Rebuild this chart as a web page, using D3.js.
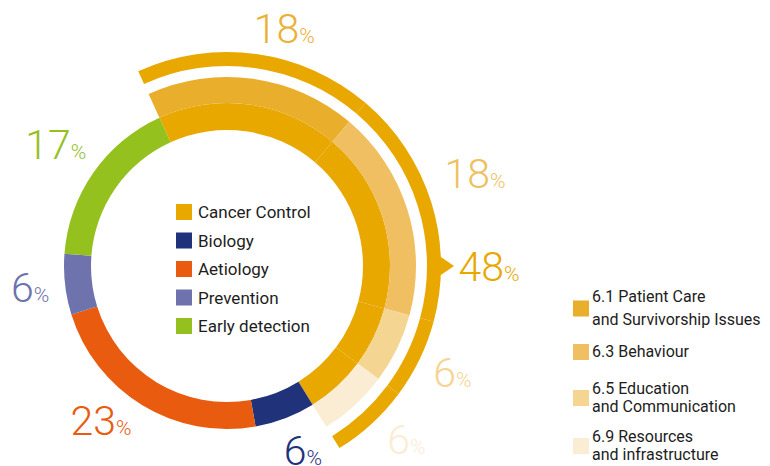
<!DOCTYPE html>
<html>
<head>
<meta charset="utf-8">
<script src="https://cdn.jsdelivr.net/npm/d3@7"></script>
<style>
  html, body { margin: 0; padding: 0; background: #fff; }
  svg { display: block; font-family: Roboto, "Noto Sans", sans-serif; }
</style>
</head>
<body>
<svg id="chart" width="770" height="466"></svg>
<script>
// ---- data ----
const categories = ["Cancer Control", "Biology", "Aetiology", "Prevention", "Early detection"];
const shares = [48, 6, 23, 6, 17];
const categoryColors = ["#E8A800", "#1F327A", "#E95B0F", "#6E72AD", "#95C11F"];

const subCategories = [
  ["6.1 Patient Care", "and Survivorship Issues"],
  ["6.3 Behaviour"],
  ["6.5 Education", "and Communication"],
  ["6.9 Resources", "and infrastructure"]
];
const subShares = [18, 18, 6, 6];
const subColors = ["#E9AE2B", "#EFBF62", "#F4D592", "#FBEDD4"];
const subLabelColors = ["#EBB034", "#EFBF62", "#F4D592", "#FBEDD4"];

// ---- layout ----
const svg = d3.select("#chart");
const cx = 227, cy = 266;
const deg = Math.PI / 180;
const startAngle = -24.5 * deg;
const total = d3.sum(shares);

const g = svg.append("g").attr("transform", `translate(${cx},${cy})`);

const pieMain = d3.pie().sort(null).value(d => d)
  .startAngle(startAngle).endAngle(startAngle + 2 * Math.PI);
const mainArcs = pieMain(shares);

const pieSub = d3.pie().sort(null).value(d => d)
  .startAngle(startAngle).endAngle(startAngle + 2 * Math.PI * d3.sum(subShares) / total);
const subArcs = pieSub(subShares);

const arcInner = d3.arc().innerRadius(136).outerRadius(163);
const arcSub = d3.arc().innerRadius(163).outerRadius(189);
const arcThin = d3.arc().innerRadius(200).outerRadius(214);

// inner ring: Cancer Control drawn in its sub-segments (same colour), others as-is
g.selectAll("path.cc").data(subArcs).join("path")
  .attr("class", "cc").attr("d", arcInner).attr("fill", categoryColors[0]);
g.selectAll("path.main").data(mainArcs.slice(1)).join("path")
  .attr("class", "main").attr("d", arcInner)
  .attr("fill", (d, i) => categoryColors[i + 1]);

// second ring: sub-categories
g.selectAll("path.sub").data(subArcs).join("path")
  .attr("class", "sub").attr("d", arcSub)
  .attr("fill", (d, i) => subColors[i]);

// thin outer bracket ring
g.selectAll("path.thin").data(subArcs).join("path")
  .attr("class", "thin").attr("d", arcThin).attr("fill", categoryColors[0]);

// pointer triangle at 90°
const polar = (r, a) => [r * Math.sin(a), -r * Math.cos(a)];
const pa = 90 * deg, pd = 3.9 * deg;
g.append("path")
  .attr("d", d3.line()([polar(207, pa - pd), polar(227, pa), polar(207, pa + pd)]) + "Z")
  .attr("fill", categoryColors[0]);

// ---- percentage labels ----
function pctLabel(value, color, angle, r) {
  const [x, y] = polar(r, angle);
  const t = g.append("text")
    .attr("x", x).attr("y", y + 15)
    .attr("text-anchor", "middle")
    .attr("fill", color)
    .attr("font-weight", 300);
  t.append("tspan").attr("font-size", 41).text(value);
  t.append("tspan").attr("font-size", 21).text("%");
}
const mid = d => (d.startAngle + d.endAngle) / 2;

// main category labels (Cancer Control is labelled at the pointer)
const mainLabelAdj = [null, [-1.5, 199], [8, 199], [0.3, 198], [0.5, 210]];
mainArcs.forEach((d, i) => {
  if (i === 0) return;
  const [da, r] = mainLabelAdj[i];
  pctLabel(shares[i], categoryColors[i], mid(d) + da * deg, r);
});
pctLabel(shares[0], categoryColors[0], pa, 262);

// sub-category labels
const subLabelAdj = [[5.6, 245], [-3.3, 265], [-0.8, 249], [-3.6, 249]];
subArcs.forEach((d, i) => {
  const [da, r] = subLabelAdj[i];
  pctLabel(subShares[i], subLabelColors[i], mid(d) + da * deg, r);
});

// ---- center legend ----
const legC = svg.append("g").attr("transform", "translate(176,212)");
categories.forEach((c, i) => {
  const row = legC.append("g").attr("transform", `translate(0,${i * 28.5})`);
  row.append("rect").attr("x", 0).attr("y", -8).attr("width", 16).attr("height", 16)
    .attr("fill", categoryColors[i]);
  row.append("text").attr("x", 22).attr("y", 6)
    .attr("font-size", 17).attr("fill", "#1d1d1b").text(c);
});

// ---- right legend ----
const rightRows = [ [302, 325], [357], [394, 412], [442, 460] ];
const legR = svg.append("g");
subCategories.forEach((lines, i) => {
  const ys = rightRows[i];
  const midY = lines.length > 1 ? (ys[0] + ys[1]) / 2 - 5 : ys[0] - 5;
  legR.append("rect").attr("x", 573).attr("y", midY - 8).attr("width", 16).attr("height", 16)
    .attr("fill", subColors[i]);
  lines.forEach((ln, j) => {
    legR.append("text").attr("x", 592).attr("y", ys[j])
      .attr("font-size", 16).attr("fill", "#1d1d1b").text(ln);
  });
});
</script>
</body>
</html>
